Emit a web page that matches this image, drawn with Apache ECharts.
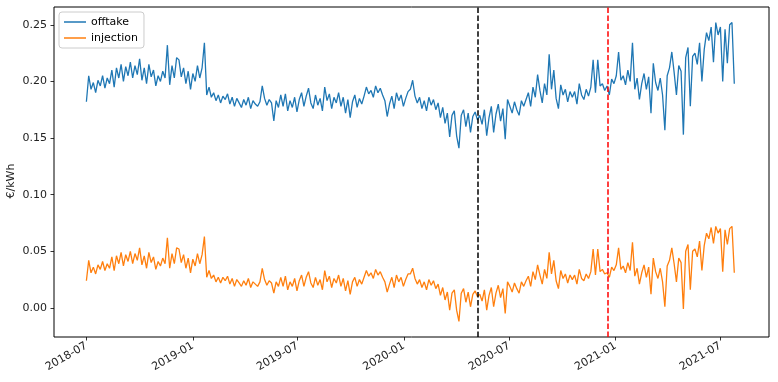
<!DOCTYPE html>
<html>
<head>
<meta charset="utf-8">
<script src="https://cdn.jsdelivr.net/npm/echarts@6/dist/echarts.min.js"></script>
<style>
  html, body { margin: 0; padding: 0; background: #fff; }
  #chart { width: 778px; height: 382px; }
</style>
</head>
<body>
<div id="chart"></div>
<script>
// one value every 4 days, starting 2018-07-01
const startDate = [2018, 7, 1];
const stepDays = 4;

const offtake = [
  0.182, 0.205, 0.193, 0.199, 0.190, 0.201, 0.196, 0.205, 0.194, 0.203,
  0.198, 0.210, 0.195, 0.212, 0.203, 0.215, 0.200, 0.213, 0.205, 0.217,
  0.203, 0.214, 0.206, 0.220, 0.201, 0.212, 0.198, 0.215, 0.204, 0.210,
  0.196, 0.205, 0.200, 0.209, 0.203, 0.232, 0.197, 0.214, 0.203, 0.221,
  0.219, 0.204, 0.212, 0.198, 0.209, 0.193, 0.207, 0.200, 0.214, 0.203,
  0.212, 0.234, 0.188, 0.195, 0.186, 0.190, 0.183, 0.188, 0.181, 0.187,
  0.184, 0.189, 0.180, 0.186, 0.178, 0.185, 0.181, 0.177, 0.184, 0.179,
  0.186, 0.176, 0.183, 0.180, 0.178, 0.182, 0.196, 0.185, 0.179, 0.184,
  0.181, 0.165, 0.183, 0.177, 0.188, 0.178, 0.189, 0.174, 0.183, 0.177,
  0.186, 0.173, 0.184, 0.190, 0.178, 0.187, 0.194, 0.181, 0.176, 0.188,
  0.179, 0.185, 0.174, 0.195, 0.183, 0.189, 0.176, 0.186, 0.181, 0.190,
  0.178, 0.186, 0.172, 0.184, 0.168, 0.182, 0.188, 0.177, 0.185, 0.180,
  0.187, 0.195, 0.189, 0.192, 0.186, 0.196, 0.190, 0.194, 0.188, 0.183,
  0.169, 0.180, 0.187, 0.176, 0.190, 0.183, 0.188, 0.178, 0.185, 0.191,
  0.193, 0.201, 0.187, 0.181, 0.186, 0.176, 0.183, 0.174, 0.186, 0.179,
  0.184, 0.175, 0.181, 0.168, 0.177, 0.163, 0.172, 0.151, 0.170, 0.174,
  0.152, 0.141, 0.170, 0.175, 0.160, 0.172, 0.155, 0.169, 0.173, 0.166,
  0.170, 0.162, 0.175, 0.152, 0.168, 0.178, 0.155, 0.171, 0.180, 0.165,
  0.176, 0.149, 0.184, 0.178, 0.172, 0.182, 0.175, 0.170, 0.183, 0.178,
  0.184, 0.190, 0.178, 0.195, 0.186, 0.206, 0.192, 0.181, 0.198, 0.188,
  0.224, 0.193, 0.210, 0.185, 0.176, 0.197, 0.188, 0.193, 0.182, 0.191,
  0.186, 0.191, 0.180, 0.198, 0.188, 0.184, 0.193, 0.187, 0.195, 0.219,
  0.190, 0.219, 0.196, 0.198, 0.192, 0.196, 0.188, 0.202, 0.198, 0.205,
  0.226, 0.201, 0.205, 0.197, 0.210, 0.200, 0.234, 0.193, 0.203, 0.184,
  0.198, 0.207, 0.193, 0.204, 0.172, 0.216, 0.199, 0.192, 0.203, 0.188,
  0.157, 0.205, 0.212, 0.226, 0.208, 0.188, 0.214, 0.209, 0.153, 0.221,
  0.230, 0.178, 0.222, 0.225, 0.215, 0.234, 0.200, 0.228, 0.243, 0.236,
  0.248, 0.217, 0.252, 0.241, 0.248, 0.200, 0.246, 0.216, 0.250, 0.252, 0.198
];

const injection = [
  0.024, 0.042, 0.031, 0.036, 0.030, 0.038, 0.034, 0.041, 0.033, 0.039,
  0.035, 0.045, 0.033, 0.046, 0.039, 0.049, 0.037, 0.047, 0.041, 0.050,
  0.039, 0.048, 0.042, 0.053, 0.038, 0.046, 0.035, 0.049, 0.040, 0.045,
  0.034, 0.041, 0.037, 0.044, 0.039, 0.062, 0.035, 0.048, 0.039, 0.053,
  0.052, 0.040, 0.047, 0.035, 0.044, 0.031, 0.043, 0.037, 0.048, 0.039,
  0.047, 0.063, 0.027, 0.033, 0.026, 0.029, 0.023, 0.027, 0.022, 0.027,
  0.024, 0.028, 0.021, 0.026, 0.019, 0.025, 0.022, 0.019, 0.024, 0.020,
  0.026, 0.018, 0.023, 0.021, 0.019, 0.023, 0.035, 0.025, 0.020, 0.024,
  0.022, 0.013, 0.023, 0.019, 0.027, 0.019, 0.028, 0.016, 0.023, 0.019,
  0.026, 0.015, 0.024, 0.029, 0.019, 0.027, 0.032, 0.022, 0.018, 0.027,
  0.020, 0.025, 0.016, 0.033, 0.023, 0.028, 0.018, 0.026, 0.022, 0.029,
  0.019, 0.026, 0.015, 0.024, 0.012, 0.023, 0.027, 0.019, 0.025, 0.021,
  0.027, 0.033, 0.028, 0.031, 0.026, 0.034, 0.029, 0.032, 0.027, 0.023,
  0.014, 0.021, 0.027, 0.018, 0.029, 0.023, 0.027, 0.019, 0.025, 0.030,
  0.030, 0.035, 0.026, 0.021, 0.025, 0.018, 0.023, 0.016, 0.025, 0.020,
  0.024, 0.017, 0.021, 0.011, 0.018, 0.007, 0.014, -0.002, 0.013, 0.016,
  -0.002, -0.012, 0.013, 0.017, 0.005, 0.014, 0.001, 0.012, 0.015, 0.010,
  0.012, 0.006, 0.016, -0.002, 0.011, 0.018, 0.001, 0.013, 0.020, 0.009,
  0.017, -0.005, 0.023, 0.019, 0.014, 0.022, 0.017, 0.013, 0.023, 0.019,
  0.024, 0.028, 0.019, 0.032, 0.025, 0.038, 0.029, 0.021, 0.034, 0.026,
  0.049, 0.030, 0.042, 0.024, 0.017, 0.033, 0.026, 0.030, 0.022, 0.029,
  0.025, 0.029, 0.021, 0.034, 0.026, 0.024, 0.030, 0.026, 0.032, 0.052,
  0.029, 0.052, 0.032, 0.034, 0.030, 0.031, 0.027, 0.036, 0.033, 0.038,
  0.053, 0.034, 0.037, 0.031, 0.040, 0.033, 0.058, 0.028, 0.035, 0.021,
  0.031, 0.038, 0.027, 0.036, 0.012, 0.044, 0.032, 0.026, 0.035, 0.023,
  0.001, 0.037, 0.042, 0.053, 0.039, 0.023, 0.044, 0.040, -0.001, 0.050,
  0.056, 0.016, 0.050, 0.052, 0.045, 0.059, 0.033, 0.055, 0.066, 0.061,
  0.071, 0.057, 0.072, 0.066, 0.070, 0.032, 0.069, 0.056, 0.070, 0.072, 0.031
];

const tickLabels = ['2018-07', '2019-01', '2019-07', '2020-01', '2020-07', '2021-01', '2021-07'];
const yTicks = [0, 0.05, 0.10, 0.15, 0.20, 0.25];
const blackLineDate = '2020-05-07';
const redLineDate = '2020-12-18';
const yTitle = '€/kWh';

function ts(y, m, d) {
  return new Date(y, m - 1, d).getTime();
}
function parseDay(s) {
  const p = s.split('-').map(Number);
  return ts(p[0], p[1], p[2] || 1);
}

const dates = offtake.map((_, i) => ts(startDate[0], startDate[1], startDate[2] + i * stepDays));
const tickValues = tickLabels.map(s => parseDay(s));

const chart = echarts.init(document.getElementById('chart'), null, { renderer: 'canvas' });

const font = 'DejaVu Sans';

chart.setOption({
  animation: false,
  backgroundColor: '#fff',
  textStyle: { fontFamily: font },
  grid: {
    left: 54, right: 9, top: 7, bottom: 45,
    containLabel: false, outerBoundsMode: 'none',
    show: true, borderColor: '#000', borderWidth: 1, backgroundColor: 'transparent'
  },
  // y axis title, placed like matplotlib's ylabel
  graphic: [{
    type: 'text',
    x: 11, y: 181,
    rotation: Math.PI / 2,
    style: {
      text: yTitle, fill: '#222',
      font: '11px "DejaVu Sans"',
      align: 'center', verticalAlign: 'middle'
    }
  }],
  legend: {
    left: 59, top: 12,
    orient: 'vertical',
    padding: [4, 6, 4, 5],
    icon: 'rect',
    itemWidth: 22, itemHeight: 1.5, itemGap: 4,
    backgroundColor: 'rgba(255,255,255,0.8)',
    borderColor: '#cccccc', borderWidth: 1, borderRadius: 3,
    textStyle: { fontFamily: font, fontSize: 11, color: '#000', lineHeight: 12 },
    data: ['offtake', 'injection']
  },
  xAxis: {
    // timestamps on a value axis so the half-year ticks can be placed exactly
    type: 'value',
    min: ts(2018, 5, 6),
    max: ts(2021, 9, 23),
    axisLine: { show: false, onZero: false },
    splitLine: { show: false },
    axisTick: {
      show: true, length: 3.5, customValues: tickValues,
      lineStyle: { color: '#000', width: 0.8 }
    },
    axisLabel: {
      customValues: tickValues,
      rotate: 30, margin: 8,
      fontFamily: font, fontSize: 11, color: '#222',
      formatter: v => tickLabels[tickValues.indexOf(v)]
    }
  },
  yAxis: {
    type: 'value',
    min: -0.0257, max: 0.2657,
    axisLine: { show: false, onZero: false },
    splitLine: { show: false },
    axisTick: {
      show: true, length: 3.5, customValues: yTicks,
      lineStyle: { color: '#000', width: 0.8 }
    },
    axisLabel: {
      customValues: yTicks,
      margin: 7,
      fontFamily: font, fontSize: 11, color: '#222',
      formatter: v => v.toFixed(2)
    }
  },
  series: [
    {
      name: 'offtake',
      type: 'line',
      symbol: 'none',
      color: '#1f77b4',
      lineStyle: { width: 1.3, color: '#1f77b4' },
      data: dates.map((d, i) => [d, offtake[i]]),
      markLine: {
        silent: true,
        symbol: ['none', 'none'],
        label: { show: false },
        lineStyle: { type: [5.5, 2.4], width: 1.5 },
        data: [
          { xAxis: parseDay(blackLineDate), lineStyle: { color: '#000' } },
          { xAxis: parseDay(redLineDate), lineStyle: { color: '#ff0000' } }
        ]
      }
    },
    {
      name: 'injection',
      type: 'line',
      symbol: 'none',
      color: '#ff7f0e',
      lineStyle: { width: 1.3, color: '#ff7f0e' },
      data: dates.map((d, i) => [d, injection[i]])
    }
  ]
});
</script>
</body>
</html>
